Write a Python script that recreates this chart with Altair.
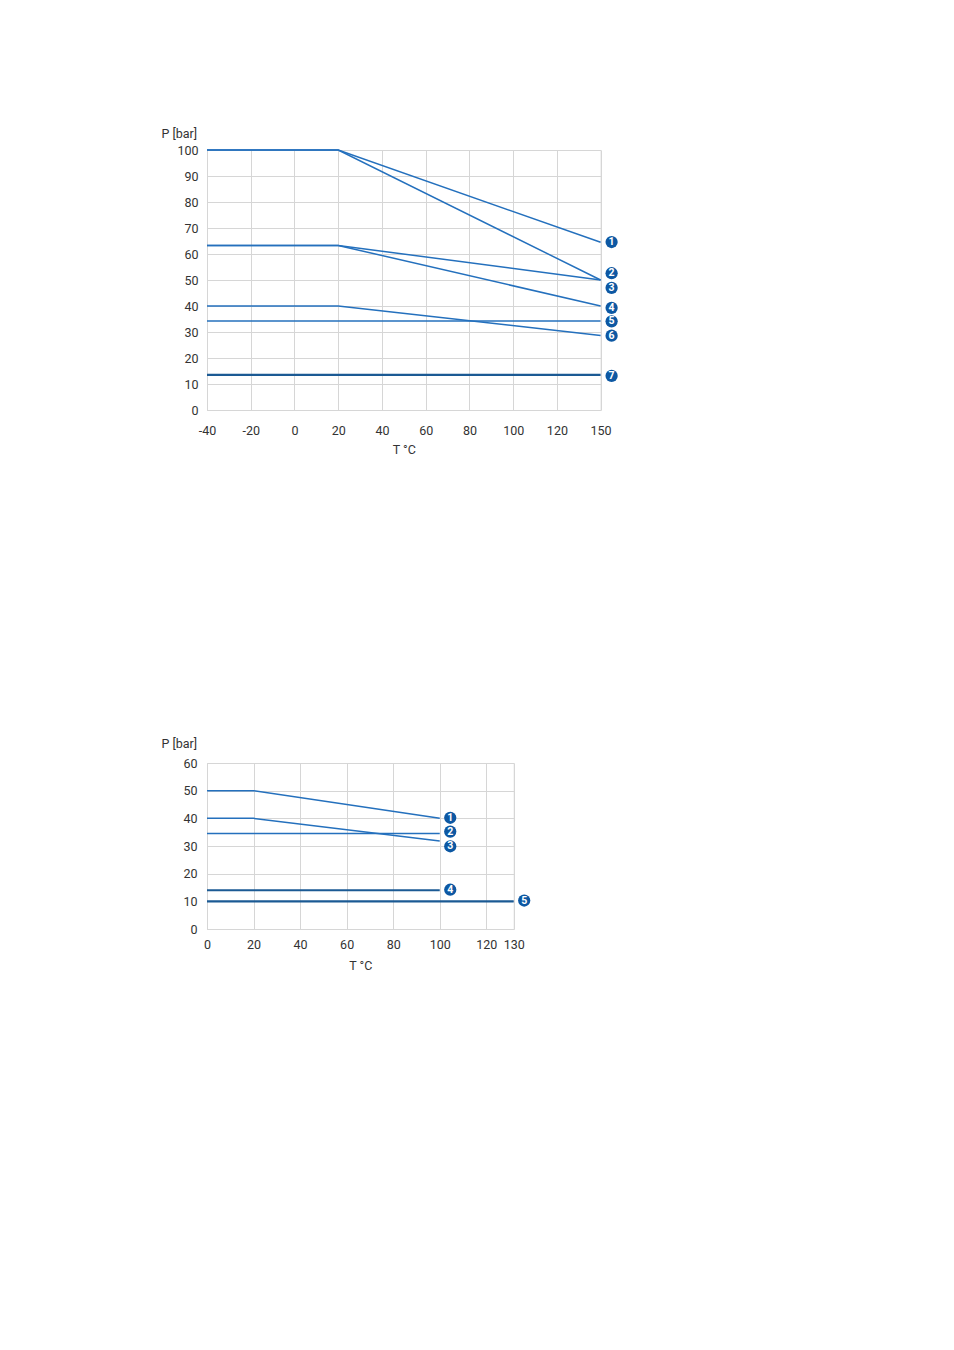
import altair as alt
import pandas as pd

# ---------- top chart data ----------
top_x = [-40, 20, 150]
top_series = {
    "1": [100, 100, 64.5],
    "2": [100, 100, 50],
    "3": [63.3, 63.3, 50],
    "4": [63.3, 63.3, 40],
    "5": [34.2, 34.2, 34.2],
    "6": [40, 40, 28.7],
    "7": [13.5, 13.5, 13.5],
}
top_thick = ["7"]
top_label_ids = ["1", "2", "3", "4", "5", "6", "7"]
top_label_x = [150, 150, 150, 150, 150, 150, 150]
top_label_y = [64.6, 52.6, 47.0, 39.3, 34.1, 28.6, 13.1]
top_xticks = [-40, -20, 0, 20, 40, 60, 80, 100, 120, 150]
top_yticks = [0, 10, 20, 30, 40, 50, 60, 70, 80, 90, 100]

# ---------- bottom chart data ----------
bot_series = {
    "1": ([0, 20, 100], [50, 50, 40]),
    "2": ([0, 100], [34.5, 34.5]),
    "3": ([0, 20, 100], [40, 40, 31.8]),
    "4": ([0, 100], [14, 14]),
    "5": ([0, 130], [10, 10]),
}
bot_thick = ["4", "5"]
bot_label_ids = ["1", "2", "3", "4", "5"]
bot_label_x = [100, 100, 100, 100, 130]
bot_label_y = [40.2, 35.2, 29.9, 14.2, 10.3]
bot_xticks = [0, 20, 40, 60, 80, 100, 120, 130]
bot_yticks = [0, 10, 20, 30, 40, 50, 60]

FONT = "Roboto"
FS = 12.5
LINE_C = "#2470bd"
DARK_C = "#1b5a94"
DOT_C = "#0d58a3"
GRID_C = "#d6d6d6"
TXT_C = "#333333"

top_rows = [
    {"s": k, "x": x, "y": y, "thick": k in top_thick}
    for k, ys in top_series.items() for x, y in zip(top_x, ys)
]
top_df = pd.DataFrame(top_rows)
top_lab = pd.DataFrame({"id": top_label_ids, "x": top_label_x, "y": top_label_y})

bot_rows = [
    {"s": k, "x": x, "y": y, "thick": k in bot_thick}
    for k, (xs, ys) in bot_series.items() for x, y in zip(xs, ys)
]
bot_df = pd.DataFrame(bot_rows)
bot_lab = pd.DataFrame({"id": bot_label_ids, "x": bot_label_x, "y": bot_label_y})


def panel(df, lab, xdom, xrange, xticks, ydom, yticks, w, h, ytitle_x, ytitle_y,
          dot_dx, xlab_pad, ylab_pad, xtitle_pad):
    xs = alt.Scale(domain=xdom, range=xrange, zero=False, nice=False)
    ys = alt.Scale(domain=ydom, zero=False, nice=False)
    xaxis = alt.Axis(values=xticks, tickCount=len(xticks), title="T °C", grid=True,
                     gridColor=GRID_C,
                     domainColor=GRID_C, ticks=False, labelPadding=xlab_pad,
                     labelExpr="'' + datum.value", labelOverlap=False,
                     labelFont=FONT, labelFontSize=FS, labelColor=TXT_C,
                     titleFont=FONT, titleFontSize=FS, titleFontWeight="normal",
                     titleColor=TXT_C, titlePadding=xtitle_pad, labelFlush=False)
    yaxis = alt.Axis(values=yticks, tickCount=len(yticks), title="P [bar]", grid=True,
                     gridColor=GRID_C,
                     domainColor=GRID_C, ticks=False, labelPadding=ylab_pad,
                     labelOverlap=False,
                     labelFont=FONT, labelFontSize=FS, labelColor=TXT_C,
                     titleFont=FONT, titleFontSize=FS, titleFontWeight="normal",
                     titleColor=TXT_C, titleAngle=0, titleAlign="left",
                     titleBaseline="alphabetic", titleX=ytitle_x, titleY=ytitle_y,
                     labelFlush=False)
    X = alt.X("x:Q", scale=xs, axis=xaxis)
    Y = alt.Y("y:Q", scale=ys, axis=yaxis)
    base = alt.Chart(df)
    thin = base.transform_filter("!datum.thick").mark_line(
        color=LINE_C, strokeWidth=1.5).encode(x=X, y=Y, detail="s:N")
    thick = base.transform_filter("datum.thick").mark_line(
        color=DARK_C, strokeWidth=2.2).encode(x=X, y=Y, detail="s:N")
    dots = alt.Chart(lab).mark_circle(color=DOT_C, opacity=1, size=150,
                                      xOffset=dot_dx).encode(x=X, y=Y)
    nums = alt.Chart(lab).mark_text(color="white", font=FONT, fontSize=10.5,
                                    fontWeight="bold", xOffset=dot_dx,
                                    baseline="middle", align="center").encode(
        x=X, y=Y, text="id:N")
    return alt.layer(thin, thick, dots, nums).properties(width=w, height=h)


top = panel(top_df, top_lab, [-40, 120, 150], [0, 349.9, 393.6], top_xticks,
            [0, 100], top_yticks, 393.6, 260, -46, -13, 11,
            14, 9, 7)
bot = panel(bot_df, bot_lab, [0, 120, 130], [0, 279.3, 306.7], bot_xticks,
            [0, 60], bot_yticks, 306.7, 166, -46, -16, 10.5,
            9, 10, 9)

chart = alt.vconcat(top, bot, spacing=279).properties(
    padding={"left": 160, "top": 126, "right": 5, "bottom": 5}
).configure_view(stroke=None).configure(background="white")

chart.save("out.html", embed_options={"renderer": "svg", "actions": False})
